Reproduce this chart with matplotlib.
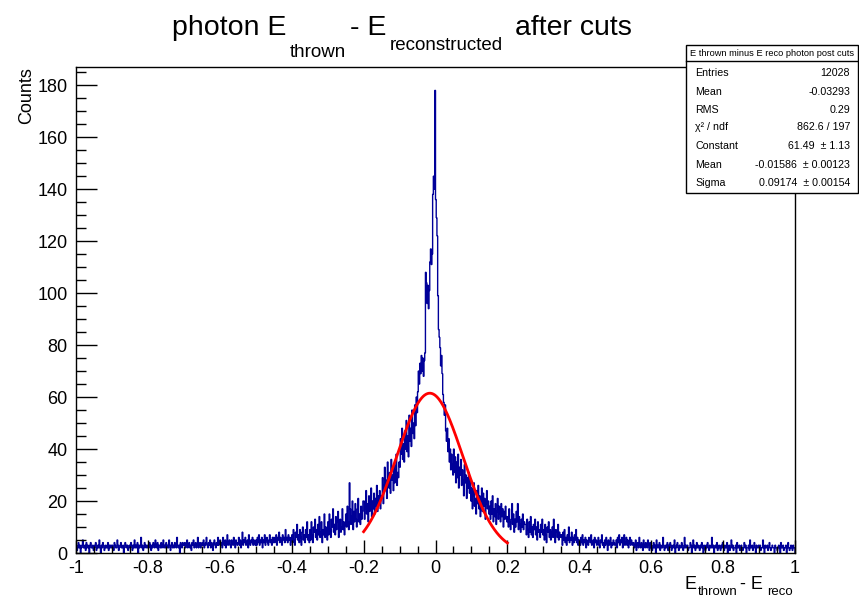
import numpy as np
import matplotlib.pyplot as plt
from matplotlib.patches import Rectangle
from matplotlib.lines import Line2D
from matplotlib.ticker import MultipleLocator

plt.rcParams['font.family'] = ['Liberation Sans', 'DejaVu Sans']

# ---------------- Histogram contents: 1000 bins of width 0.002 on [-1, 1]
# one line = 25 bins = 0.05 in E_thrown - E_reco
left_tail = [
    3, 1, 2, 4, 2, 3, 0, 2, 3, 5, 2, 2, 3, 1, 4, 2, 3, 2, 0, 3, 4, 2, 2, 3, 1,
    2, 3, 4, 1, 2, 3, 2, 5, 2, 0, 3, 2, 4, 3, 1, 2, 3, 2, 2, 4, 1, 3, 2, 3, 2,
    3, 2, 1, 4, 3, 2, 2, 5, 3, 1, 2, 3, 4, 2, 2, 3, 0, 2, 4, 3, 2, 3, 1, 2, 3,
    2, 4, 3, 1, 3, 2, 5, 2, 3, 2, 4, 0, 3, 2, 3, 6, 2, 3, 1, 2, 4, 3, 2, 3, 2,
    3, 2, 4, 3, 1, 3, 2, 4, 3, 2, 5, 3, 2, 4, 1, 3, 3, 2, 4, 2, 3, 5, 2, 3, 2,
    4, 2, 3, 2, 5, 3, 1, 3, 4, 2, 3, 2, 4, 3, 2, 6, 3, 2, 3, 0, 4, 3, 2, 4, 3,
    3, 4, 2, 3, 5, 2, 3, 4, 2, 3, 1, 4, 3, 5, 2, 3, 4, 2, 3, 6, 2, 3, 4, 2, 3,
    4, 3, 5, 2, 3, 4, 6, 3, 2, 4, 3, 5, 2, 4, 3, 1, 4, 5, 3, 2, 4, 3, 6, 3, 4,
    5, 3, 4, 2, 6, 4, 3, 5, 2, 4, 7, 3, 4, 5, 3, 2, 5, 4, 3, 6, 4, 2, 5, 4, 3,
    4, 6, 3, 5, 2, 4, 8, 3, 5, 4, 6, 3, 4, 5, 2, 7, 4, 3, 5, 4, 6, 3, 5, 4, 3,
    5, 3, 6, 4, 7, 3, 5, 4, 6, 2, 5, 4, 7, 3, 5, 6, 4, 3, 5, 7, 4, 5, 3, 6, 4,
    6, 4, 5, 7, 3, 6, 5, 8, 4, 6, 5, 3, 7, 5, 6, 4, 9, 5, 6, 4, 7, 5, 6, 3, 5,
]
left_side = [
    7, 4, 9, 5, 3, 8, 6, 11, 5, 7, 4, 9, 6, 3, 8, 10, 5, 7, 4, 9, 6, 12, 5, 7, 4,
    9, 5, 12, 7, 4, 10, 8, 13, 6, 9, 5, 11, 7, 14, 6, 8, 12, 4, 9, 7, 15, 6, 10, 8, 5,
    12, 7, 15, 9, 6, 13, 10, 17, 8, 11, 7, 14, 9, 12, 16, 6, 11, 13, 8, 10, 17, 9, 12, 7, 11,
    15, 10, 18, 12, 9, 27, 17, 11, 14, 20, 9, 16, 12, 19, 13, 10, 17, 21, 12, 15, 11, 18, 13, 16, 20,
    20, 13, 17, 24, 15, 19, 12, 22, 16, 18, 25, 14, 20, 17, 23, 15, 21, 18, 26, 16, 22, 19, 24, 17, 21,
    22, 29, 19, 26, 33, 24, 28, 21, 35, 27, 25, 31, 23, 36, 28, 30, 24, 34, 27, 32, 38, 26, 31, 29, 35,
    33, 44, 38, 48, 36, 42, 35, 47, 40, 51, 39, 45, 37, 53, 43, 48, 41, 55, 46, 50, 44, 57, 49, 60, 54,
]
core = [
    62, 70, 65, 73, 69, 76, 70, 75, 68, 74, 77, 108, 104, 96, 103, 94, 101, 112, 117, 111, 115, 138, 145, 140, 178,
    136, 129, 122, 99, 86, 83, 79, 72, 76, 69, 61, 58, 53, 57, 47, 43, 48, 39, 44, 35, 40, 32, 38, 34, 30,
]
right_side = [
    40, 31, 37, 27, 35, 29, 38, 25, 33, 30, 36, 26, 32, 28, 22, 34, 27, 30, 21, 29, 25, 31, 23, 28, 20,
    25, 17, 22, 27, 18, 21, 15, 24, 19, 26, 17, 22, 14, 20, 25, 16, 23, 18, 21, 13, 19, 24, 17, 20, 15,
    18, 13, 20, 15, 22, 12, 17, 14, 19, 11, 16, 21, 13, 18, 15, 12, 19, 14, 17, 10, 16, 13, 18, 14, 12,
    14, 10, 17, 12, 9, 13, 19, 11, 15, 8, 13, 10, 16, 12, 19, 9, 14, 11, 8, 13, 10, 15, 9, 12, 11,
    11, 7, 13, 9, 6, 12, 8, 14, 7, 10, 6, 11, 9, 13, 7, 10, 5, 12, 8, 9, 6, 11, 8, 13, 7,
    9, 5, 11, 7, 4, 10, 8, 12, 6, 9, 5, 8, 10, 6, 13, 7, 4, 9, 8, 6, 11, 5, 8, 7, 6,
    7, 3, 8, 5, 9, 4, 6, 3, 7, 5, 10, 4, 6, 5, 8, 3, 6, 4, 7, 5, 9, 4, 6, 3, 5,
]
right_tail = [
    5, 3, 6, 4, 7, 3, 5, 4, 6, 2, 5, 4, 3, 6, 5, 4, 7, 3, 4, 5, 2, 6, 4, 5, 3,
    4, 6, 3, 2, 5, 4, 7, 3, 4, 2, 5, 3, 6, 4, 1, 5, 3, 4, 6, 2, 4, 3, 5, 4, 3,
    3, 5, 2, 6, 4, 7, 3, 5, 4, 6, 2, 5, 7, 3, 4, 6, 3, 5, 2, 4, 6, 3, 5, 4, 3,
    4, 2, 3, 5, 1, 3, 4, 2, 6, 3, 2, 4, 3, 1, 5, 3, 2, 4, 3, 2, 5, 3, 1, 4, 2,
    3, 1, 2, 4, 2, 3, 0, 5, 2, 3, 2, 4, 1, 3, 2, 2, 6, 3, 1, 2, 3, 2, 4, 1, 3,
    2, 4, 3, 1, 2, 3, 2, 5, 0, 2, 3, 4, 2, 1, 3, 2, 2, 4, 3, 1, 2, 6, 2, 3, 2,
    3, 1, 2, 2, 4, 3, 0, 2, 5, 2, 3, 1, 2, 4, 2, 3, 2, 1, 3, 2, 4, 2, 0, 3, 2,
    1, 3, 2, 4, 2, 1, 3, 2, 2, 6, 2, 3, 0, 2, 3, 2, 4, 1, 2, 3, 2, 1, 3, 2, 4,
    2, 1, 3, 2, 2, 4, 0, 2, 3, 1, 2, 5, 2, 3, 1, 2, 2, 3, 0, 4, 2, 2, 3, 1, 2,
    3, 2, 1, 2, 4, 2, 3, 0, 2, 2, 3, 1, 5, 2, 2, 3, 1, 2, 4, 2, 0, 3, 2, 2, 3,
    2, 3, 1, 2, 2, 5, 2, 0, 3, 2, 2, 3, 1, 2, 4, 2, 1, 2, 3, 2, 2, 0, 3, 2, 2,
    1, 2, 3, 2, 0, 4, 2, 2, 3, 1, 2, 2, 3, 0, 2, 4, 2, 1, 2, 3, 2, 1, 3, 2, 2,
]

# ---------------- Gaussian fit result
fit_const = 61.49
fit_mean = -0.01586
fit_sigma = 0.09174
fit_range = (-0.2, 0.2)

# ---------------- Stats box
stats_title = "E thrown minus E reco photon post cuts"
stats_labels = ["Entries", "Mean", "RMS", "\u03c7\u00b2 / ndf", "Constant", "Mean", "Sigma"]
stats_values = ["12028", "-0.03293", "0.29", "862.6 / 197",
                "61.49  \u00b1 1.13", "-0.01586  \u00b1 0.00123", "0.09174  \u00b1 0.00154"]

counts = np.array(left_tail + left_side + core + right_side + right_tail, dtype=float)
assert len(counts) == 1000
edges = np.linspace(-1, 1, len(counts) + 1)

W, H = 859, 598
fig = plt.figure(figsize=(W / 100, H / 100), dpi=100)

def fx(px):
    return px / W

def fy(py):
    return 1 - py / H

ax = fig.add_axes([fx(76), fy(553), fx(795) - fx(76), fy(67) - fy(553)])

# histogram outline
ax.stairs(counts, edges, color='#000099', lw=1.0)

# fitted gaussian
xf = np.linspace(fit_range[0], fit_range[1], 300)
yf = fit_const * np.exp(-0.5 * ((xf - fit_mean) / fit_sigma) ** 2)
ax.plot(xf, yf, color='red', lw=2)

ax.set_xlim(-1, 1)
ax.set_ylim(0, 187)
ax.xaxis.set_major_locator(MultipleLocator(0.2))
ax.xaxis.set_minor_locator(MultipleLocator(0.05))
ax.yaxis.set_major_locator(MultipleLocator(20))
ax.yaxis.set_minor_locator(MultipleLocator(5))
ax.xaxis.set_major_formatter(plt.FuncFormatter(lambda v, p: '0' if abs(v) < 1e-9 else ('%g' % round(v, 1))))
ax.tick_params(axis='both', which='both', direction='in', labelsize=13, width=1, color='black')
ax.tick_params(axis='x', which='major', length=9.5, pad=5)
ax.tick_params(axis='x', which='minor', length=4.8)
ax.tick_params(axis='y', which='major', length=15, pad=6)
ax.tick_params(axis='y', which='minor', length=7.5)
for s in ax.spines.values():
    s.set_linewidth(1)

# ---------------- Title with subscripts
title_parts = [
    ("photon E", 172, 35, 20.5),
    ("thrown", 290, 57, 13.5),
    ("- E", 350, 35, 20.5),
    ("reconstructed", 390, 50, 13.5),
    ("after cuts", 515, 35, 20.5),
]
for txt, px, py, size in title_parts:
    fig.text(fx(px), fy(py), txt, fontsize=size, ha='left', va='baseline')

# ---------------- Axis labels
xlabel_parts = [
    ("E", 685, 589, 13),
    ("thrown", 698, 595, 9.5),
    ("- E", 740, 589, 13),
    ("reco", 767, 595, 9.5),
]
for txt, px, py, size in xlabel_parts:
    fig.text(fx(px), fy(py), txt, fontsize=size, ha='left', va='baseline')

fig.text(fx(27), fy(67), "Counts", fontsize=13, rotation=90, ha='center', va='top')

# ---------------- Stats box
box_l, box_r, box_t, box_b = 686, 858, 45, 193
fig.patches.append(Rectangle((fx(box_l), fy(box_b)), fx(box_r) - fx(box_l), fy(box_t) - fy(box_b),
                             transform=fig.transFigure, facecolor='white', edgecolor='black',
                             lw=1, zorder=5))
fig.lines.append(Line2D([fx(box_l), fx(box_r)], [fy(61), fy(61)], transform=fig.transFigure,
                        color='black', lw=1, zorder=6))
fig.text(fx((box_l + box_r) / 2), fy(53), stats_title, fontsize=6.7, ha='center', va='center', zorder=7)
row_y = [73, 92, 110, 127, 146, 165, 183]
for lab, val, py in zip(stats_labels, stats_values, row_y):
    fig.text(fx(695), fy(py), lab, fontsize=7.7, ha='left', va='center', zorder=7)
    fig.text(fx(850), fy(py), val, fontsize=7.7, ha='right', va='center', zorder=7)

fig.savefig('out.png', dpi=100, facecolor='white')
